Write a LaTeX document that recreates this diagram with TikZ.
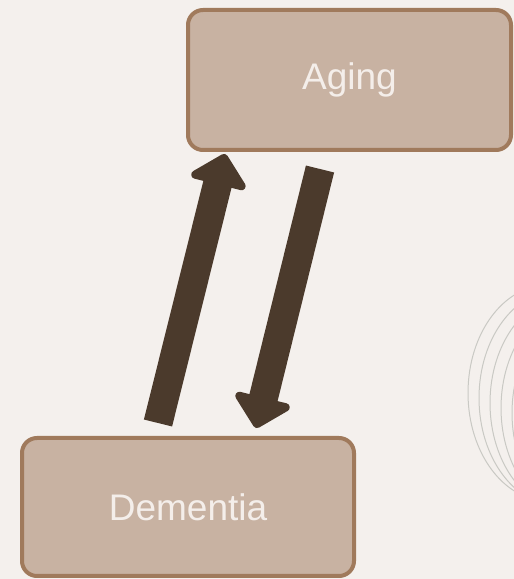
\documentclass[tikz,border=0pt]{standalone}
\usepackage{fontspec}
\setmainfont{Liberation Sans}
\usepackage{xcolor}
\usepackage{tikz}
\usetikzlibrary{arrows.meta,positioning,calc}
\definecolor{paper}{HTML}{F4F0ED}
\definecolor{boxfill}{HTML}{C8B2A2}
\definecolor{boxline}{HTML}{A07A5C}
\definecolor{cocoa}{HTML}{4B3A2C}
\definecolor{cream}{HTML}{F4EEEA}
\definecolor{swirl}{HTML}{C9C9C4}
\tikzset{
    termbox/.style={draw=boxline,fill=boxfill,line width=4pt,rounded corners=15pt,
      inner sep=0pt,outer sep=0pt,text=cream,
      font=\fontsize{37}{40}\selectfont,align=center},
    bigarrow/.style={draw=cocoa,line width=29pt,line join=round,
      -{Triangle[length=33pt,width=66pt,round]}},
    swirlline/.style={draw=swirl,line width=1pt}
}
\begin{document}
\begin{tikzpicture}[x=1pt,y=1pt]
  \fill[paper] (0,0) rectangle (514,579);
  \useasboundingbox (0,0) rectangle (514,579);
  % decorative rings at the right edge
  \begin{scope}
    \clip (0,0) rectangle (514,579);
    \foreach \i in {0,...,4}
      \draw[swirlline] (548+11*\i,186-5*\i) ellipse [x radius=80,y radius=108];
  \end{scope}
  \node[termbox,minimum width=323pt,minimum height=140pt] (aging) at (349.5,499) {Aging};
  \node[termbox,minimum width=332pt,minimum height=138pt] (dementia) at (188,72) {Dementia};
  \draw[bigarrow] ([shift={(136,15)}]dementia.north west) -- ([shift={(37,-4)}]aging.south west);
  \draw[bigarrow] ([shift={(132,-19)}]aging.south west) -- ([shift={(234,10)}]dementia.north west);
\end{tikzpicture}
\end{document}
